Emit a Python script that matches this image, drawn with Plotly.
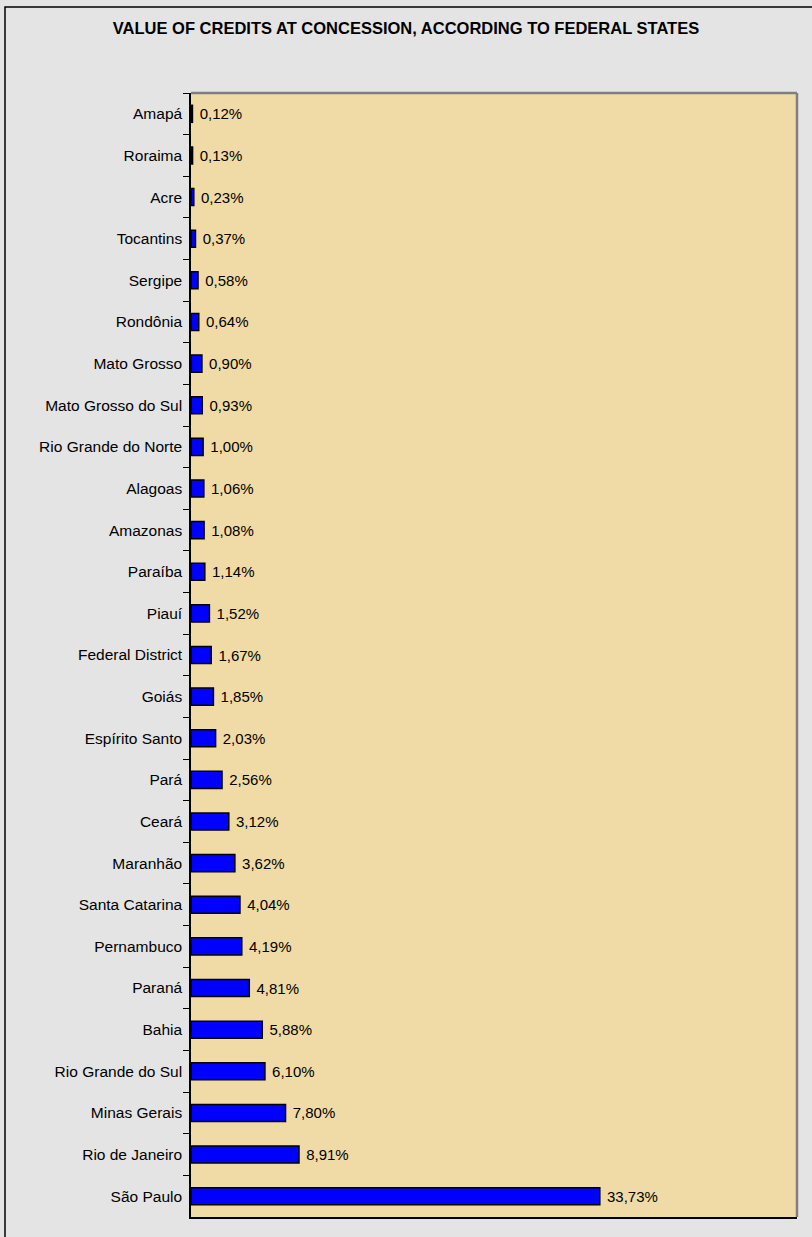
import plotly.graph_objects as go

# estados, de cima para baixo
states = ["Amapá", "Roraima", "Acre", "Tocantins", "Sergipe", "Rondônia",
          "Mato Grosso", "Mato Grosso do Sul", "Rio Grande do Norte", "Alagoas",
          "Amazonas", "Paraíba", "Piauí", "Federal District", "Goiás",
          "Espírito Santo", "Pará", "Ceará", "Maranhão", "Santa Catarina",
          "Pernambuco", "Paraná", "Bahia", "Rio Grande do Sul", "Minas Gerais",
          "Rio de Janeiro", "São Paulo"]
share = [0.12, 0.13, 0.23, 0.37, 0.58, 0.64, 0.90, 0.93, 1.00, 1.06,
         1.08, 1.14, 1.52, 1.67, 1.85, 2.03, 2.56, 3.12, 3.62, 4.04,
         4.19, 4.81, 5.88, 6.10, 7.80, 8.91, 33.73]

W, H = 812, 1237
L, R, T, B = 191, 15, 93, 20
pw, ph = W - L - R, H - T - B

fig = go.Figure(go.Bar(
    x=share, y=states, orientation="h",
    marker=dict(color="#0000FF", line=dict(color="black", width=1.5)),
    width=0.41,
    texttemplate=" %{x:.2f}%", textposition="outside",
    textfont=dict(size=15, color="black"),
    cliponaxis=False, showlegend=False,
))

# moldura externa + bordas cinza do plot
fig.add_shape(type="rect", xref="paper", yref="paper",
              x0=-(L - 5) / pw, x1=(pw + R + 5) / pw,
              y0=-(B + 5) / ph, y1=1 + (T - 7) / ph,
              line=dict(color="black", width=1.5), layer="below")
fig.add_shape(type="line", xref="paper", yref="paper", x0=0, x1=1, y0=1, y1=1,
              line=dict(color="#7f7f7f", width=2.5))
fig.add_shape(type="line", xref="paper", yref="paper", x0=1, x1=1, y0=0, y1=1,
              line=dict(color="#7f7f7f", width=2.5))

fig.update_layout(
    width=W, height=H,
    margin=dict(l=L, r=R, t=T, b=B),
    paper_bgcolor="#e4e4e5", plot_bgcolor="#f0daa5",
    separators=",.",
    font=dict(family="Arial, Liberation Sans, sans-serif", size=15, color="black"),
    title=dict(text="<b>VALUE OF CREDITS AT CONCESSION, ACCORDING TO FEDERAL STATES</b>",
               x=0.5, xanchor="center", y=1 - 28 / H, yanchor="middle",
               font=dict(size=16.5, color="black")),
    bargap=0.59,
)
fig.update_xaxes(range=[0, 50], showticklabels=False, showgrid=False,
                 zeroline=False, showline=True, linecolor="black", linewidth=1.5,
                 ticks="")
fig.update_yaxes(autorange="reversed", showgrid=False, showline=True,
                 linecolor="black", linewidth=1.5, ticks="outside",
                 tickson="boundaries", ticklen=6, tickcolor="black",
                 ticklabelstandoff=4, tickfont=dict(size=15.5))

fig.write_html("out.html", config={"displayModeBar": False},
               post_script="document.body.style.margin='0';")
